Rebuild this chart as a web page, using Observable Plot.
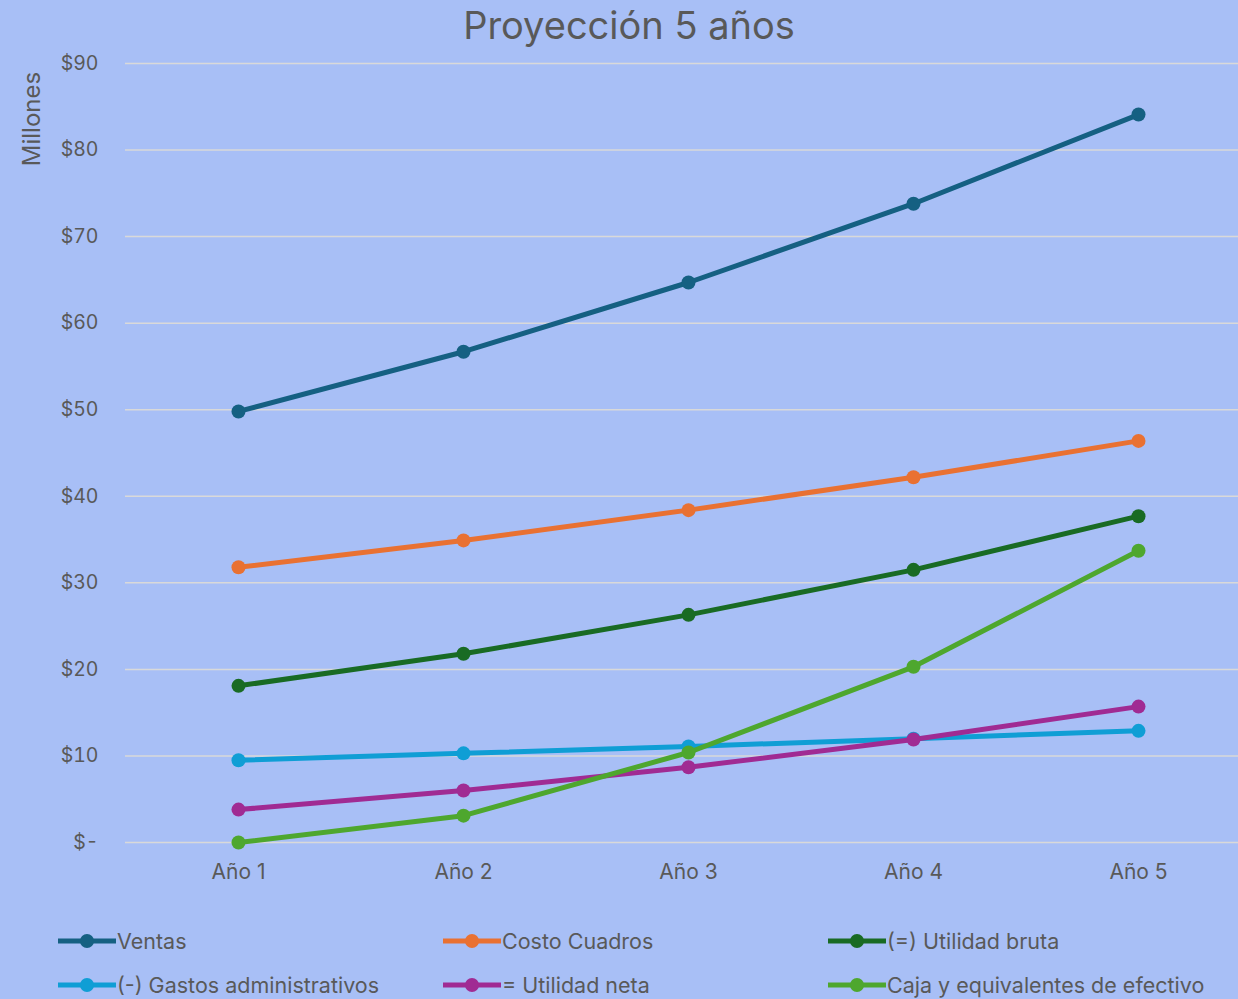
<!DOCTYPE html>
<html>
<head>
<meta charset="utf-8">
<script src="https://cdn.jsdelivr.net/npm/d3@7"></script>
<script src="https://cdn.jsdelivr.net/npm/@observablehq/plot@0.6"></script>
<style>
  html, body { margin: 0; padding: 0; background: #A8BFF6; }
  body { width: 1238px; height: 999px; position: relative; overflow: hidden; font-family: Inter, "Noto Sans", sans-serif; color: #595959; }
  #title { position: absolute; left: 20px; top: 0; width: 1218px; height: 50px; line-height: 50px; text-align: center; font-size: 38px; color: #595959; }
  #ylabel { position: absolute; left: 31px; top: 119px; transform: translate(-50%, -50%) rotate(-90deg); font-size: 24px; white-space: nowrap; }
  #chart { position: absolute; left: 0; top: 50px; }
  #legend { position: absolute; left: 0; top: 920px; width: 1238px; height: 79px; }
  .item { position: absolute; display: flex; align-items: center; font-size: 21.5px; height: 30px; }
  .item svg { display: block; }
</style>
</head>
<body>
<div id="title">Proyección 5 años</div>
<div id="ylabel">Millones</div>
<div id="chart"></div>
<div id="legend"></div>
<script>
const years = ["Año 1", "Año 2", "Año 3", "Año 4", "Año 5"];
const seriesNames = ["Ventas", "Costo Cuadros", "(=) Utilidad bruta", "(-) Gastos administrativos", "= Utilidad neta", "Caja y equivalentes de efectivo"];
const ventas = [49.8, 56.7, 64.7, 73.8, 84.1];
const costoCuadros = [31.8, 34.9, 38.4, 42.2, 46.4];
const utilidadBruta = [18.1, 21.8, 26.3, 31.5, 37.7];
const gastosAdmin = [9.5, 10.3, 11.1, 12.0, 12.9];
const utilidadNeta = [3.8, 6.0, 8.7, 11.9, 15.7];
const caja = [0.0, 3.1, 10.4, 20.3, 33.7];
const yTicks = [0, 10, 20, 30, 40, 50, 60, 70, 80, 90];
const colors = ["#156082", "#E97132", "#196B24", "#0F9ED5", "#A02B93", "#4EA72E"];

const seriesValues = [ventas, costoCuadros, utilidadBruta, gastosAdmin, utilidadNeta, caja];
const data = [];
seriesNames.forEach((s, i) => years.forEach((y, j) => data.push({serie: s, year: y, value: seriesValues[i][j]})));

const marks = [
  Plot.ruleY(yTicks, {stroke: "#D9D9D9", strokeWidth: 1.5})
];
seriesNames.forEach((s, i) => {
  const d = data.filter(r => r.serie === s);
  marks.push(Plot.line(d, {x: "year", y: "value", stroke: colors[i], strokeWidth: 5}));
  marks.push(Plot.dot(d, {x: "year", y: "value", fill: colors[i], r: 7}));
});

const chart = Plot.plot({
  width: 1238,
  height: 860,
  marginLeft: 125,
  marginRight: 0,
  marginTop: 13,
  marginBottom: 68,
  style: {background: "transparent", fontFamily: "Inter, 'Noto Sans', sans-serif", fontSize: "19px", color: "#595959"},
  x: {type: "point", domain: years, range: [237, 1138], padding: 0, label: null},
  y: {domain: [0, 90], label: null},
  marks: [
    ...marks,
    Plot.axisX({tickSize: 0, tickPadding: 22, fontSize: 21, fill: "#595959", label: null}),
    Plot.axisY({ticks: yTicks, tickSize: 0, tickPadding: 27, fontSize: 19.5, fill: "#595959", label: null,
      tickFormat: d => d === 0 ? "$-" : "$" + d})
  ]
});
document.getElementById("chart").appendChild(chart);

const legend = document.getElementById("legend");
const pos = [[58, 6], [443, 6], [828, 6], [58, 50], [443, 50], [828, 50]];
seriesNames.forEach((s, i) => {
  const el = document.createElement("div");
  el.className = "item";
  el.style.left = pos[i][0] + "px";
  el.style.top = pos[i][1] + "px";
  el.innerHTML = `<svg width="59" height="16"><line x1="0" x2="58" y1="8" y2="8" stroke="${colors[i]}" stroke-width="5"/><circle cx="29" cy="8" r="7" fill="${colors[i]}"/></svg><span>${s}</span>`;
  legend.appendChild(el);
});
</script>
</body>
</html>
